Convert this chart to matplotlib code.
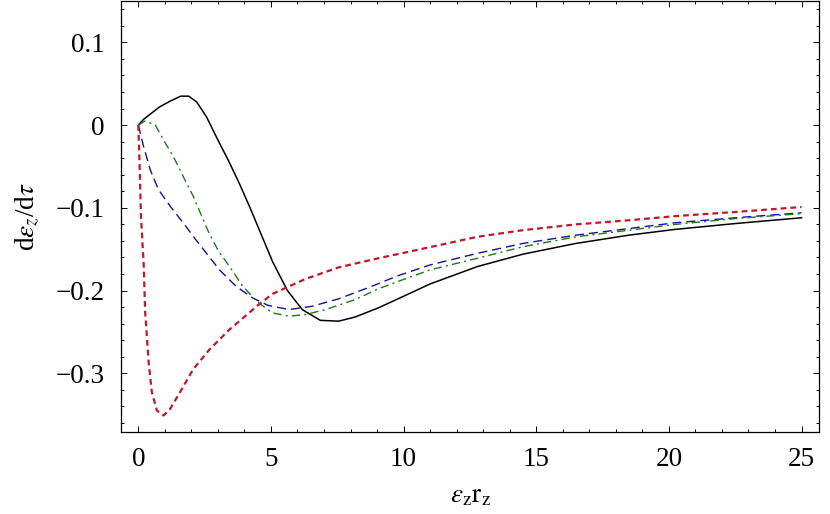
import matplotlib
matplotlib.use("Agg")
import matplotlib.pyplot as plt
from matplotlib.ticker import MultipleLocator, FuncFormatter

# curve samples (x = eps_z r_z, y = d eps_z / d tau)
x_black = [0, 0.2, 0.8, 1.2, 1.6, 1.9, 2.2, 2.57, 3.0, 3.4, 3.8, 4.2, 4.5, 5.06, 5.62,
           6.18, 6.86, 7.55, 8.17, 9.04, 9.79, 11.0, 12.78, 14.5, 16.5, 18.5, 20.25,
           22.5, 25]
y_black = [0, 0.007, 0.022, 0.029, 0.035, 0.035, 0.028, 0.010, -0.018, -0.043, -0.070,
           -0.099, -0.122, -0.165, -0.200, -0.223, -0.236, -0.237, -0.232, -0.221,
           -0.210, -0.192, -0.171, -0.156, -0.143, -0.133, -0.126, -0.119, -0.112]

x_blue = [0, 0.2, 0.45, 0.76, 1.2, 1.69, 2.13, 2.57, 3.06, 3.69, 4.31, 4.9, 5.68, 6.55,
          7.55, 8.79, 9.79, 11.0, 12.78, 14.5, 16.5, 18.5, 20.25, 22.5, 25]
y_blue = [0, -0.026, -0.054, -0.078, -0.098, -0.118, -0.137, -0.155, -0.175, -0.195,
          -0.209, -0.218, -0.223, -0.219, -0.210, -0.195, -0.182, -0.169, -0.155,
          -0.143, -0.133, -0.125, -0.118, -0.112, -0.106]

x_green = [0, 0.26, 0.64, 0.95, 1.32, 1.69, 2.07, 2.63, 3.0, 3.44, 3.94, 4.5, 5.06,
           5.68, 6.3, 7.05, 8.17, 9.04, 9.79, 11.0, 12.78, 14.5, 16.5, 18.5, 20.25,
           22.5, 25]
y_green = [0, 0.005, 0.0, -0.018, -0.038, -0.062, -0.086, -0.128, -0.151, -0.171,
           -0.195, -0.214, -0.227, -0.231, -0.229, -0.223, -0.211, -0.198, -0.189,
           -0.175, -0.161, -0.147, -0.135, -0.127, -0.120, -0.113, -0.107]

x_red = [0, 0.05, 0.1, 0.2, 0.26, 0.39, 0.51, 0.7, 0.95, 1.2, 1.57, 2.07, 2.69, 3.44,
         3.81, 4.5, 5.06, 6.3, 7.55, 9.04, 10.5, 12.78, 14.5, 16.5, 18.5, 20.25,
         22.5, 25]
y_red = [0, -0.05, -0.11, -0.167, -0.227, -0.287, -0.323, -0.345, -0.351, -0.343,
         -0.323, -0.295, -0.271, -0.247, -0.237, -0.218, -0.204, -0.186, -0.172,
         -0.161, -0.151, -0.135, -0.127, -0.120, -0.115, -0.110, -0.105, -0.099]

plt.rcParams["font.family"] = ["Liberation Serif", "DejaVu Serif"]
plt.rcParams["mathtext.fontset"] = "stix"


def tick_fmt(v, pos):
    if abs(v) < 1e-9:
        return "0"
    s = "%g" % v
    return s.replace("-", "\u2212")


fig = plt.figure(figsize=(8.30, 5.14), dpi=100)
ax = fig.add_axes([0.1458, 0.1595, 0.8410, 0.8385])

ax.plot(x_black, y_black, color="black", lw=1.1)
ax.plot(x_blue, y_blue, color="#12129c", lw=1.0, dashes=(6.5, 3.6))
ax.plot(x_green, y_green, color="#1c7a1c", lw=1.0, dashes=(6.0, 3.0, 1.5, 3.0))
ax.plot(x_red, y_red, color="#c0182a", lw=1.6, dashes=(2.6, 1.8))

ax.set_xlim(-0.652, 25.66)
ax.set_ylim(-0.371, 0.15)

ax.xaxis.set_major_locator(MultipleLocator(5))
ax.xaxis.set_minor_locator(MultipleLocator(1))
ax.yaxis.set_major_locator(MultipleLocator(0.1))
ax.yaxis.set_minor_locator(MultipleLocator(0.02))
ax.xaxis.set_major_formatter(FuncFormatter(tick_fmt))
ax.yaxis.set_major_formatter(FuncFormatter(tick_fmt))

ax.tick_params(which="both", direction="in", top=True, right=True, width=0.7)
ax.tick_params(which="major", length=4.5, labelsize=19.5)
ax.tick_params(axis="x", which="major", pad=11)
ax.tick_params(axis="y", which="major", pad=12)
ax.tick_params(which="minor", length=2.5)
for sp in ax.spines.values():
    sp.set_linewidth(0.9)

ax.set_xlabel(r"$\varepsilon_{\rm z}{\rm r}_{\rm z}$", fontsize=19.5, labelpad=8)
ax.set_ylabel(r"d$\varepsilon_z$/d$\tau$", fontsize=19.5, labelpad=10)

fig.savefig("out.png", dpi=100)
